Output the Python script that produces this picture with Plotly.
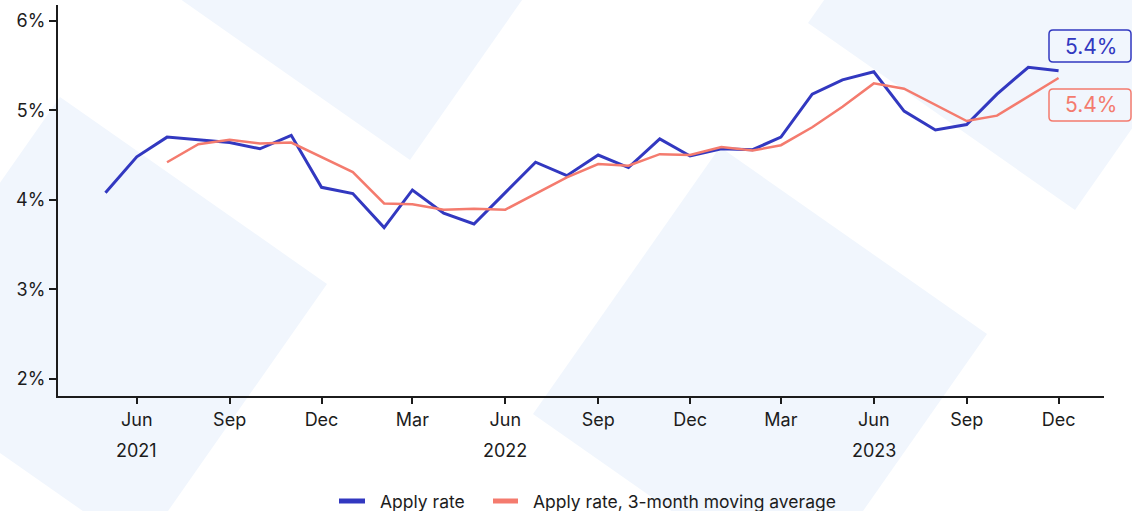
import plotly.graph_objects as go

# Monthly apply rate (%) from May 2021 to Dec 2023
months = [
    "2021-05-01", "2021-06-01", "2021-07-01", "2021-08-01", "2021-09-01", "2021-10-01",
    "2021-11-01", "2021-12-01", "2022-01-01", "2022-02-01", "2022-03-01", "2022-04-01",
    "2022-05-01", "2022-06-01", "2022-07-01", "2022-08-01", "2022-09-01", "2022-10-01",
    "2022-11-01", "2022-12-01", "2023-01-01", "2023-02-01", "2023-03-01", "2023-04-01",
    "2023-05-01", "2023-06-01", "2023-07-01", "2023-08-01", "2023-09-01", "2023-10-01",
    "2023-11-01", "2023-12-01",
]
apply_rate = [
    4.08, 4.48, 4.70, 4.67, 4.64, 4.57, 4.72, 4.14, 4.07, 3.69, 4.11, 3.85,
    3.73, 4.08, 4.42, 4.27, 4.50, 4.36, 4.68, 4.49, 4.57, 4.56, 4.70, 5.18,
    5.34, 5.43, 4.99, 4.78, 4.84, 5.18, 5.48, 5.44,
]
apply_rate_ma3 = [
    None, None, 4.42, 4.62, 4.67, 4.63, 4.64, 4.48, 4.31, 3.96, 3.95, 3.89,
    3.90, 3.89, 4.07, 4.25, 4.40, 4.38, 4.51, 4.50, 4.59, 4.55, 4.61, 4.81,
    5.04, 5.30, 5.24, 5.06, 4.88, 4.94, 5.15, 5.36,
]
y_ticks = [2, 3, 4, 5, 6]
y_tick_labels = ["2%", "3%", "4%", "5%", "6%"]
year_ticks = ["2021-06-01", "2022-06-01", "2023-06-01"]
year_labels = ["2021", "2022", "2023"]
series_names = ["Apply rate", "Apply rate, 3-month moving average"]

BLUE = "#3238c0"
CORAL = "#f47b6e"
INK = "#1c1c1c"
TINT = "#f1f6fd"
FONT = "Inter, Roboto, sans-serif"

W, H = 1132, 511
PL, PR, PT, PB = 58, 1104, 5, 396  # plot area in pixels


def px(x):
    return (x - PL) / (PR - PL)


def py(y):
    return (PB - y) / (PB - PT)


def poly(points):
    pts = [f"{px(x):.5f},{py(y):.5f}" for x, y in points]
    return "M " + " L ".join(pts) + " Z"


def rounded_box(x0, y0, x1, y1, r):
    rx, ry = r / (PR - PL), r / (PB - PT)
    a, b = px(x0), px(x1)
    top, bot = py(y0), py(y1)
    return (
        f"M {a+rx},{top} L {b-rx},{top} Q {b},{top} {b},{top-ry} "
        f"L {b},{bot+ry} Q {b},{bot} {b-rx},{bot} "
        f"L {a+rx},{bot} Q {a},{bot} {a},{bot+ry} "
        f"L {a},{top-ry} Q {a},{top} {a+rx},{top} Z"
    )


fig = go.Figure()

fig.add_trace(go.Scatter(
    x=months, y=apply_rate, mode="lines", name=series_names[0],
    line=dict(color=BLUE, width=3), showlegend=False, hoverinfo="x+y",
))
fig.add_trace(go.Scatter(
    x=months, y=apply_rate_ma3, mode="lines", name=series_names[1],
    line=dict(color=CORAL, width=2.5), showlegend=False, hoverinfo="x+y",
))

# decorative tilted squares in the background
squares = [
    [(410, 160), (143, -27), (330, -294), (597, -107)],
    [(60, 97), (327, 284), (140, 551), (-127, 364)],
    [(720, 147), (987, 334), (800, 601), (533, 414)],
    [(808, 23), (1075, 210), (1262, -57), (995, -244)],
]
shapes = []
for sq in squares:
    shapes.append(dict(
        type="path", xref="paper", yref="paper", path=poly(sq),
        fillcolor=TINT, line=dict(width=0), layer="below",
    ))

# end-of-line value boxes
annotations = []
boxes = [
    (apply_rate[-1], BLUE, 30, 62),
    (apply_rate_ma3[-1], CORAL, 89, 121),
]
for val, col, y0, y1 in boxes:
    shapes.append(dict(
        type="path", xref="paper", yref="paper",
        path=rounded_box(1049, y0, 1131, y1, 4),
        fillcolor="rgba(0,0,0,0)", line=dict(color=col, width=1.5), layer="above",
    ))
    annotations.append(dict(
        xref="paper", yref="paper", x=px(1090.5), y=py((y0 + y1) / 2),
        xanchor="center", yanchor="middle", showarrow=False,
        text=f"{val:.1f}%", font=dict(family=FONT, size=21, color=col),
    ))

# year row under the month ticks
for xv, label in zip(year_ticks, year_labels):
    annotations.append(dict(
        xref="x", yref="paper", x=xv, y=py(450), xanchor="center", yanchor="middle",
        showarrow=False, text=label, font=dict(family=FONT, size=18, color=INK),
    ))

# legend row at the bottom: swatch + label per series
legend_items = [(339, 365, 378), (493, 518, 531)]
for (s0, s1, tx), name, col in zip(legend_items, series_names, [BLUE, CORAL]):
    shapes.append(dict(
        type="line", xref="paper", yref="paper",
        x0=px(s0), x1=px(s1), y0=py(501), y1=py(501),
        line=dict(color=col, width=5), layer="above",
    ))
    annotations.append(dict(
        xref="paper", yref="paper", x=px(tx), y=py(501), xanchor="left", yanchor="middle",
        showarrow=False, text=name, font=dict(family=FONT, size=17.5, color=INK),
    ))

fig.update_layout(
    width=W, height=H,
    margin=dict(l=PL, r=W - PR, t=PT, b=H - PB, pad=0),
    paper_bgcolor="white", plot_bgcolor="rgba(0,0,0,0)",
    font=dict(family=FONT, size=18, color=INK),
    shapes=shapes, annotations=annotations,
    showlegend=False,
    xaxis=dict(
        type="date", range=["2021-03-15", "2024-01-15"],
        tick0="2021-06-01", dtick="M3", tickformat="%b",
        showgrid=False, zeroline=False,
        showline=True, linecolor=INK, linewidth=2,
        ticks="outside", ticklen=6, tickwidth=2, tickcolor=INK,
        tickfont=dict(family=FONT, size=18, color=INK),
    ),
    yaxis=dict(
        range=[1.81, 6.175], tickmode="array", tickvals=y_ticks, ticktext=y_tick_labels,
        showgrid=False, zeroline=False,
        showline=True, linecolor=INK, linewidth=2,
        ticks="outside", ticklen=7, tickwidth=2, tickcolor=INK,
        tickfont=dict(family=FONT, size=18, color=INK),
    ),
)

fig.write_html("out.html")
